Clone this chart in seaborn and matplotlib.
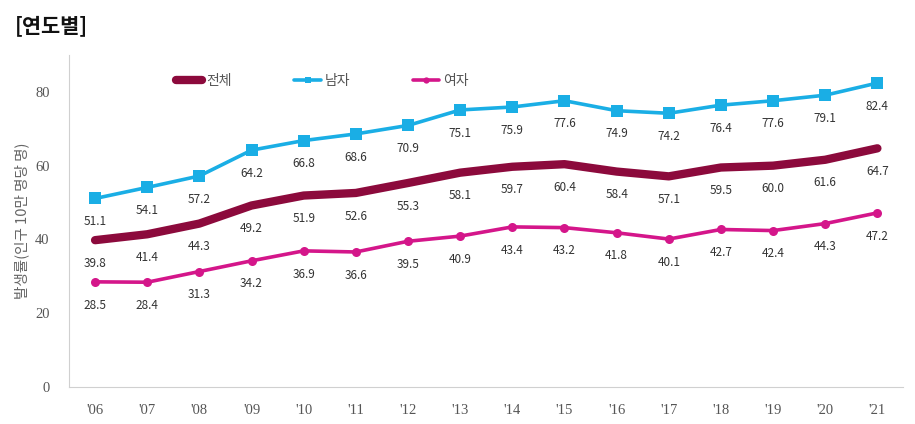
import pandas as pd
import matplotlib
matplotlib.use('Agg')
import matplotlib.pyplot as plt
import seaborn as sns

# data
years = ["'06", "'07", "'08", "'09", "'10", "'11", "'12", "'13",
         "'14", "'15", "'16", "'17", "'18", "'19", "'20", "'21"]
total = [39.8, 41.4, 44.3, 49.2, 51.9, 52.6, 55.3, 58.1, 59.7, 60.4, 58.4, 57.1, 59.5, 60.0, 61.6, 64.7]
male = [51.1, 54.1, 57.2, 64.2, 66.8, 68.6, 70.9, 75.1, 75.9, 77.6, 74.9, 74.2, 76.4, 77.6, 79.1, 82.4]
female = [28.5, 28.4, 31.3, 34.2, 36.9, 36.6, 39.5, 40.9, 43.4, 43.2, 41.8, 40.1, 42.7, 42.4, 44.3, 47.2]
y_ticks = [0, 20, 40, 60, 80]

sns.set_style('white')
plt.rcParams['font.family'] = ['Noto Sans CJK KR', 'DejaVu Sans']

df = pd.DataFrame({'x': range(len(years)), 'total': total, 'male': male, 'female': female})

fig = plt.figure(figsize=(9.15, 4.24), dpi=100)
ax = fig.add_axes([0.0754, 0.0873, 0.912, 0.783])

sns.lineplot(data=df, x='x', y='total', ax=ax, color='#8C0A3C', linewidth=6,
             solid_capstyle='round', label='전체')
sns.lineplot(data=df, x='x', y='male', ax=ax, color='#1AAEE5', linewidth=2.6,
             marker='s', markersize=8, markeredgewidth=0, label='남자')
sns.lineplot(data=df, x='x', y='female', ax=ax, color='#D4168A', linewidth=2.6,
             marker='o', markersize=6.5, markeredgewidth=0, label='여자')

# value labels below each point
for col in ['total', 'male', 'female']:
    for i, v in enumerate(df[col]):
        ax.annotate(f'{v:.1f}', (i, v), xytext=(0, -12), textcoords='offset points',
                    ha='center', va='top', fontsize=8.5, color='#333333',
                    fontweight='medium')

ax.set_xlim(-0.5, len(years) - 0.5)
ax.set_ylim(0, 90)
ax.set_xticks(range(len(years)))
ax.set_xticklabels(years)
ax.set_yticks(y_ticks)
for lab in ax.get_xticklabels() + ax.get_yticklabels():
    lab.set_family(['Liberation Serif', 'DejaVu Serif'])
    lab.set_fontsize(10.5)
    lab.set_color('#555555')
ax.tick_params(axis='x', pad=12, length=0)
ax.tick_params(axis='y', pad=14, length=0)

ax.set_xlabel('')
ax.set_ylabel('발생률(인구 10만 명당 명)', fontsize=10.5, color='#666666', labelpad=4)

for s in ['top', 'right']:
    ax.spines[s].set_visible(False)
ax.spines['left'].set_color('#D0D0D0')
ax.spines['bottom'].set_color('#D0D0D0')

leg = ax.legend(loc='upper left', bbox_to_anchor=(0.113, 0.98), ncol=3, frameon=False,
                fontsize=10, handlelength=1.9, handletextpad=0.3, columnspacing=4.5)
for t in leg.get_texts():
    t.set_color('#555555')
for h in leg.legend_handles:
    h.set_markersize(4.5)

fig.text(0.016, 0.94, '[연도별]', fontsize=15, fontweight='bold', color='#111111', va='center')

fig.savefig('out.png', dpi=100)
